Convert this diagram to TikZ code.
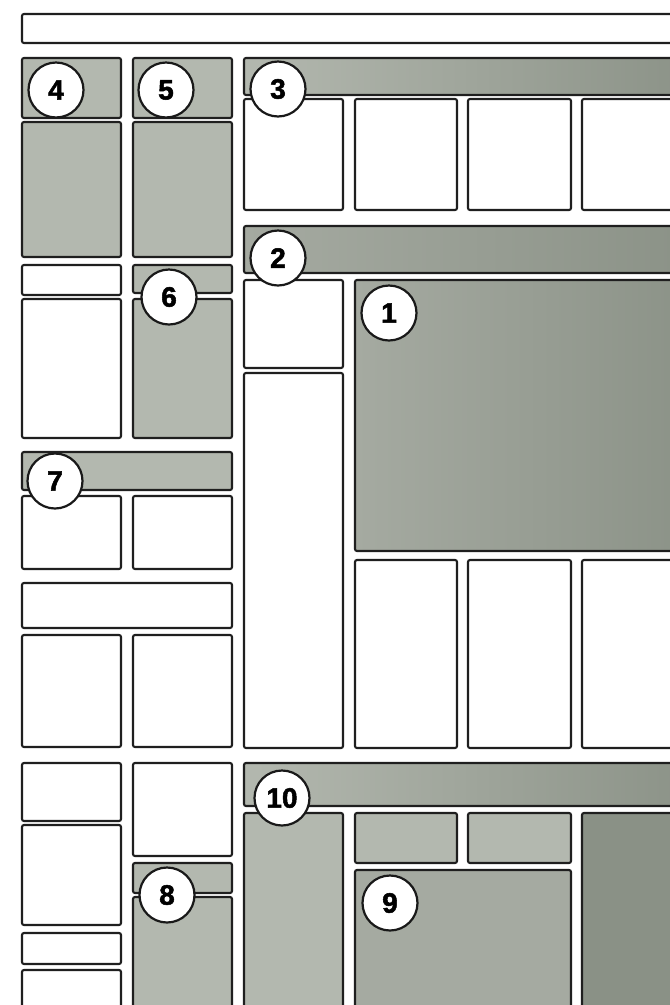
\documentclass[tikz,border=0pt]{standalone}
\usepackage{fontspec}
\setmainfont{Liberation Sans}
\newfontfamily\numfont[FakeBold=1.8]{Liberation Sans}
\begin{document}
\begin{tikzpicture}[x=1pt,y=-1pt,
  box/.style={draw=black!88,line width=2.1pt,rounded corners=2pt},
  wbox/.style={box,fill=white},
  gbox/.style={box,fill=lightg},
  grad/.style={box,left color=#1,right color=darkg},
  num/.style={circle,draw=black!90,line width=2.2pt,fill=white,minimum size=55pt,inner sep=0pt,
    font=\numfont\fontsize{28}{28}\selectfont\bfseries}]
\definecolor{lightg}{HTML}{B3B8AF}
\definecolor{midg}{HTML}{A5AAA1}
\definecolor{darkg}{HTML}{8A9186}
\useasboundingbox (0,0) rectangle (670,1005);
\clip (0,0) rectangle (670,1005);
\fill[white] (0,0) rectangle (670,1005);
% top bar
\draw[wbox] (22,14) rectangle (710,43);
% column A
\draw[gbox] (22,58) rectangle (121,118);
\draw[gbox] (22,122) rectangle (121,257);
\draw[wbox] (22,265) rectangle (121,295);
\draw[wbox] (22,299) rectangle (121,438);
\draw[gbox] (22,452) rectangle (232,490);
\draw[wbox] (22,496) rectangle (121,569);
\draw[wbox] (22,583) rectangle (232,628);
\draw[wbox] (22,635) rectangle (121,747);
\draw[wbox] (22,763) rectangle (121,821);
\draw[wbox] (22,825) rectangle (121,925);
\draw[wbox] (22,933) rectangle (121,964);
\draw[wbox] (22,970) rectangle (121,1030);
% column B
\draw[gbox] (133,58) rectangle (232,118);
\draw[gbox] (133,122) rectangle (232,257);
\draw[gbox] (133,265) rectangle (232,293);
\draw[gbox] (133,299) rectangle (232,438);
\draw[wbox] (133,496) rectangle (232,569);
\draw[wbox] (133,635) rectangle (232,747);
\draw[wbox] (133,763) rectangle (232,856);
\draw[gbox] (133,863) rectangle (232,893);
\draw[gbox] (133,897) rectangle (232,1030);
% column C and right
\draw[grad=lightg] (244,58) rectangle (710,95);
\draw[wbox] (244,99) rectangle (343,210);
\draw[wbox] (355,99) rectangle (457,210);
\draw[wbox] (468,99) rectangle (571,210);
\draw[wbox] (582,99) rectangle (710,210);
\draw[grad=midg] (244,226) rectangle (710,273);
\draw[wbox] (244,280) rectangle (343,368);
\draw[wbox] (244,373) rectangle (343,748);
\draw[grad=midg] (355,280) rectangle (710,551);
\draw[wbox] (355,560) rectangle (457,748);
\draw[wbox] (468,560) rectangle (571,748);
\draw[wbox] (582,560) rectangle (710,748);
\draw[grad=lightg] (244,763) rectangle (710,806);
\draw[gbox] (244,813) rectangle (343,1030);
\draw[gbox] (355,813) rectangle (457,863);
\draw[gbox] (468,813) rectangle (571,863);
\draw[box,fill=midg] (355,870) rectangle (571,1030);
\draw[box,fill=darkg] (582,813) rectangle (710,1030);
% numbered circles
\node[num] (n4) at (56,90) {4};
\node[num] (n5) at (166,90) {5};
\node[num] (n3) at (278,89) {3};
\node[num] (n2) at (278,258) {2};
\node[num] (n6) at (169,297) {6};
\node[num] (n1) at (389,313) {1};
\node[num] (n7) at (55,481) {7};
\node[num] (n10) at (282,798) {10};
\node[num] (n8) at (167,895) {8};
\node[num] (n9) at (390,903) {9};
\end{tikzpicture}
\end{document}
